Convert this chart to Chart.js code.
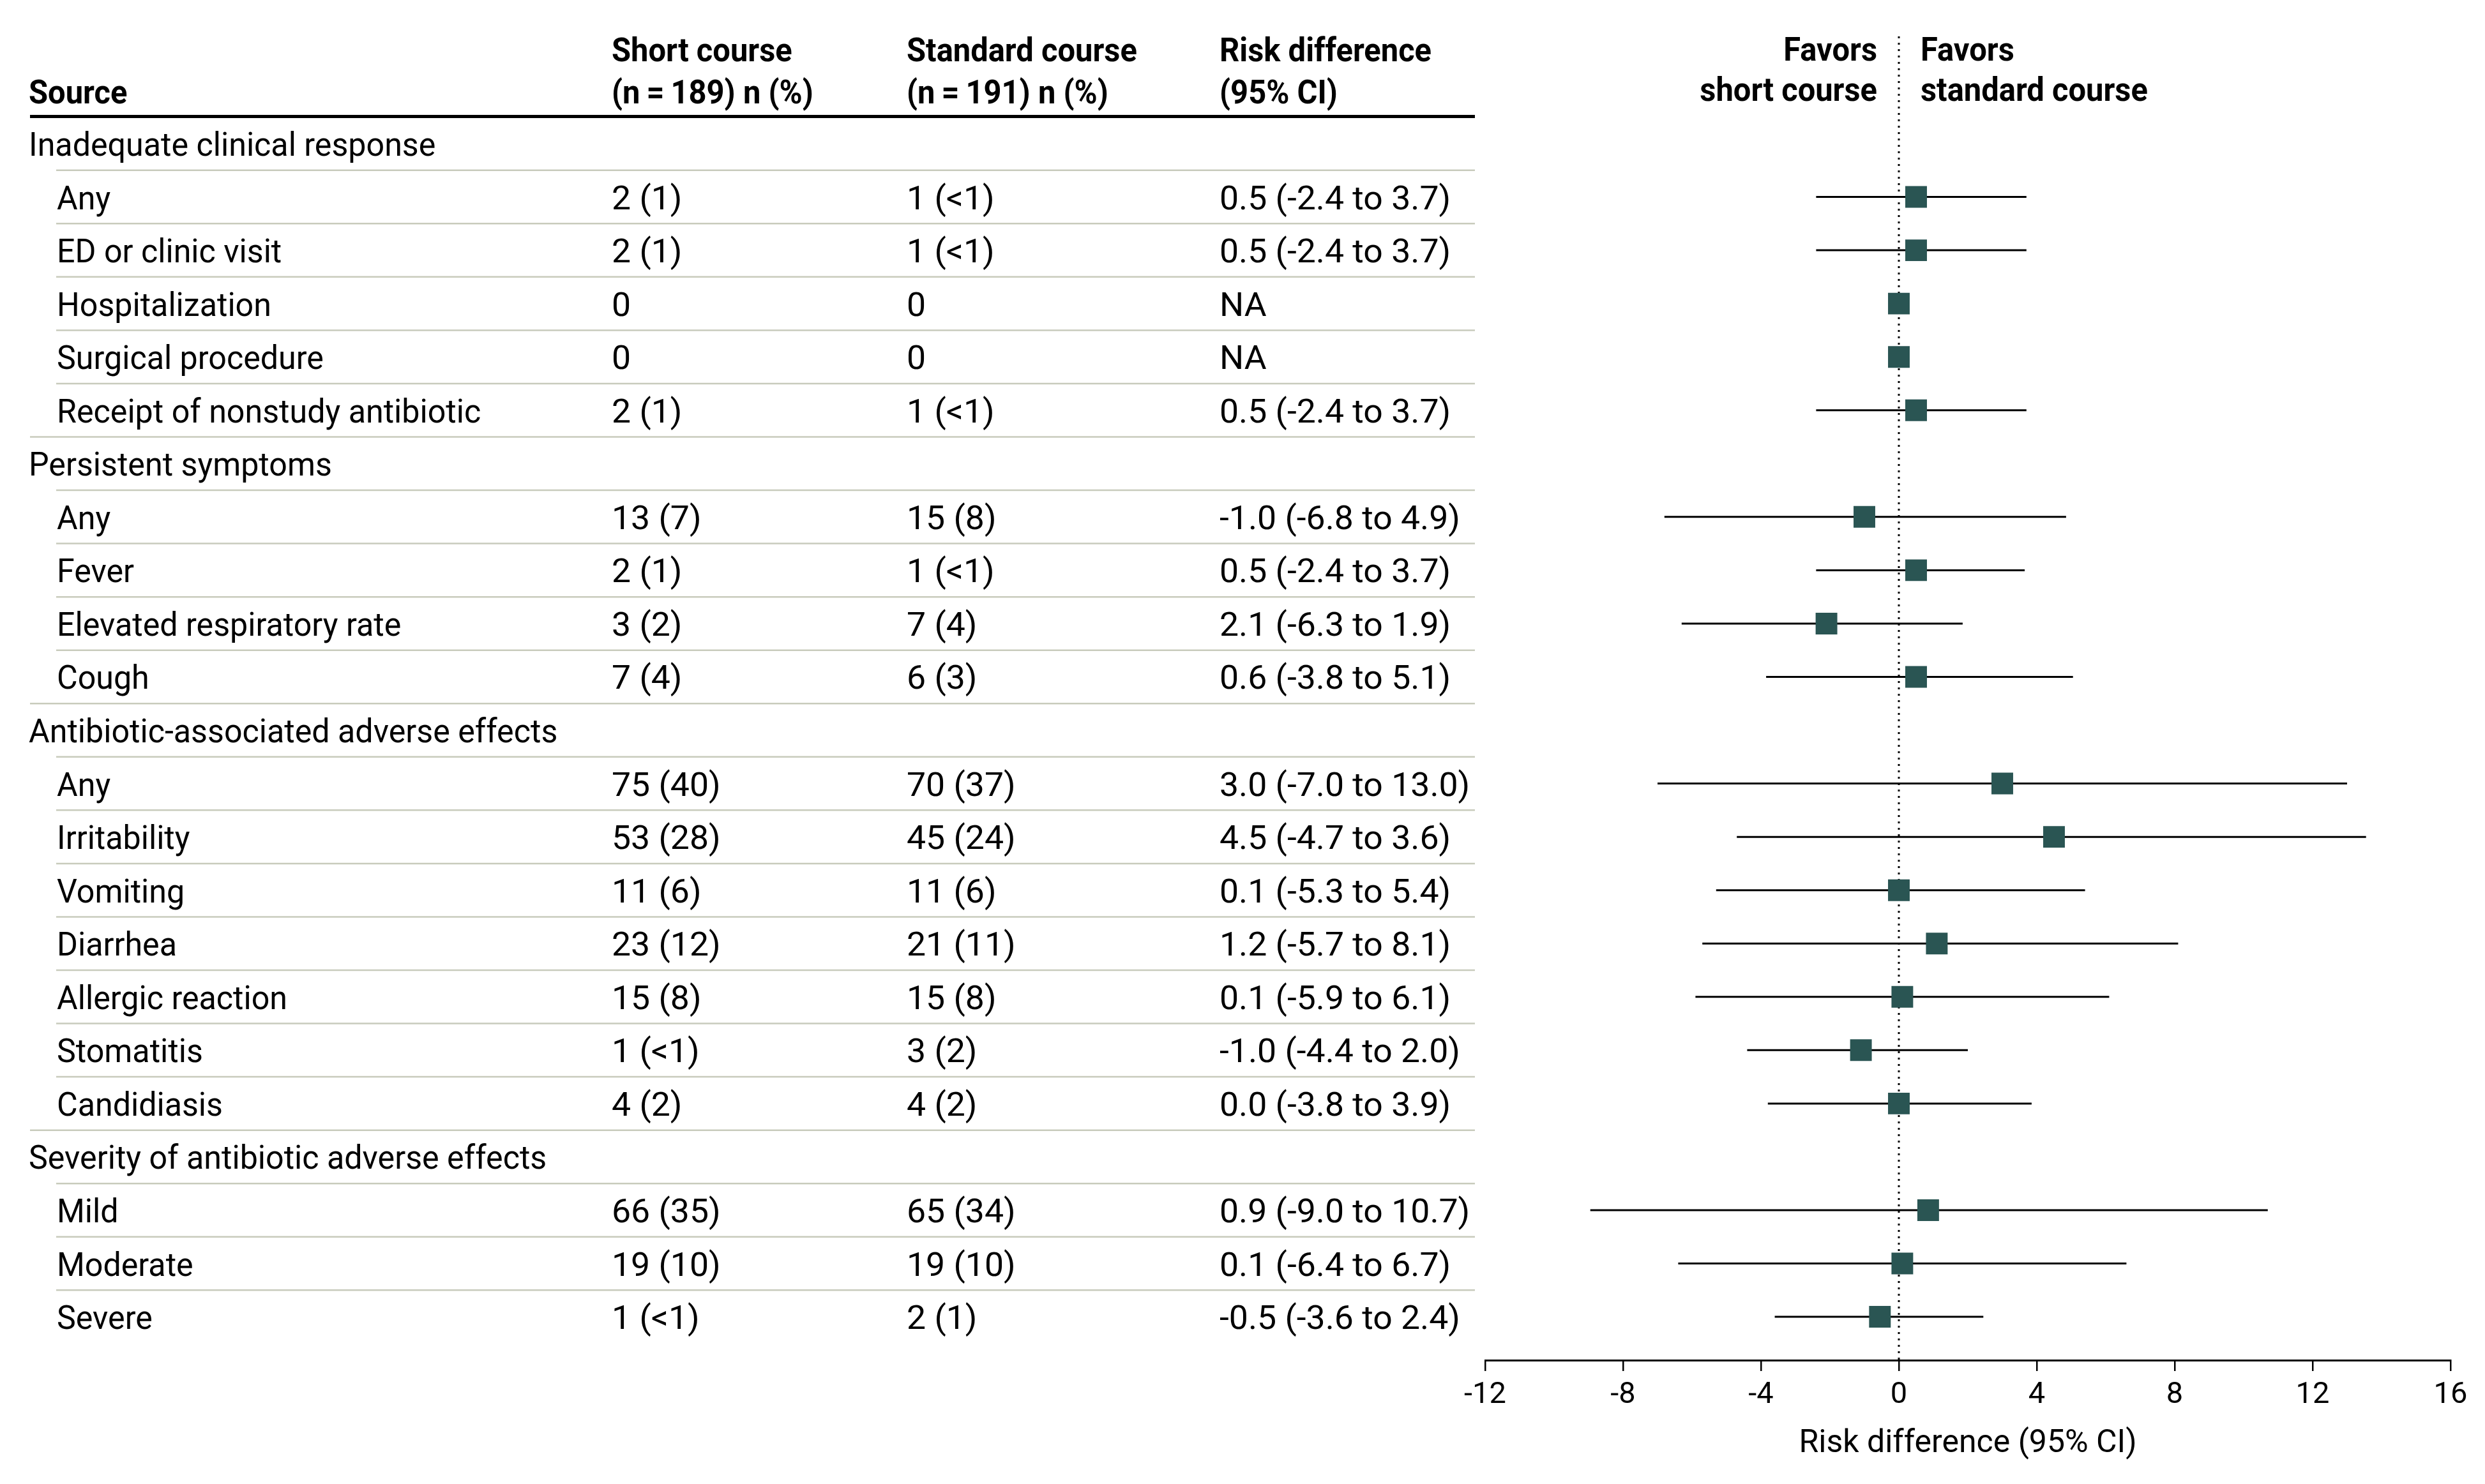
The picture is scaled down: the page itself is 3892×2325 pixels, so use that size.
<!DOCTYPE html>
<html>
<head>
<meta charset="utf-8">
<script src="https://cdn.jsdelivr.net/npm/chart.js"></script>
<style>
html,body{margin:0;padding:0;background:#fff;}
canvas{display:block;}
</style>
</head>
<body>
<canvas id="c" width="3892" height="2325"></canvas>
<script>
// ---------- DATA ----------
const rowLabels = [
  "Inadequate clinical response", "Any", "ED or clinic visit", "Hospitalization", "Surgical procedure",
  "Receipt of nonstudy antibiotic",
  "Persistent symptoms", "Any", "Fever", "Elevated respiratory rate", "Cough",
  "Antibiotic-associated adverse effects", "Any", "Irritability", "Vomiting", "Diarrhea",
  "Allergic reaction", "Stomatitis", "Candidiasis",
  "Severity of antibiotic adverse effects", "Mild", "Moderate", "Severe"
];
const isGroup = [true,false,false,false,false,false,true,false,false,false,false,true,false,false,false,false,false,false,false,true,false,false,false];
const shortCourse = ["", "2 (1)", "2 (1)", "0", "0", "2 (1)", "", "13 (7)", "2 (1)", "3 (2)", "7 (4)", "",
  "75 (40)", "53 (28)", "11 (6)", "23 (12)", "15 (8)", "1 (<1)", "4 (2)", "", "66 (35)", "19 (10)", "1 (<1)"];
const standardCourse = ["", "1 (<1)", "1 (<1)", "0", "0", "1 (<1)", "", "15 (8)", "1 (<1)", "7 (4)", "6 (3)", "",
  "70 (37)", "45 (24)", "11 (6)", "21 (11)", "15 (8)", "3 (2)", "4 (2)", "", "65 (34)", "19 (10)", "2 (1)"];
const riskText = ["", "0.5 (-2.4 to 3.7)", "0.5 (-2.4 to 3.7)", "NA", "NA", "0.5 (-2.4 to 3.7)", "",
  "-1.0 (-6.8 to 4.9)", "0.5 (-2.4 to 3.7)", "2.1 (-6.3 to 1.9)", "0.6 (-3.8 to 5.1)", "",
  "3.0 (-7.0 to 13.0)", "4.5 (-4.7 to 3.6)", "0.1 (-5.3 to 5.4)", "1.2 (-5.7 to 8.1)", "0.1 (-5.9 to 6.1)",
  "-1.0 (-4.4 to 2.0)", "0.0 (-3.8 to 3.9)", "", "0.9 (-9.0 to 10.7)", "0.1 (-6.4 to 6.7)", "-0.5 (-3.6 to 2.4)"];
// plotted values (as drawn in the figure)
const estimate = [null, 0.5, 0.5, 0, 0, 0.5, null, -1.0, 0.5, -2.1, 0.5, null,
  3.0, 4.5, 0.0, 1.1, 0.1, -1.1, 0.0, null, 0.85, 0.1, -0.55];
const ciLow = [null, -2.4, -2.4, null, null, -2.4, null, -6.8, -2.4, -6.3, -3.85, null,
  -7.0, -4.7, -5.3, -5.7, -5.9, -4.4, -3.8, null, -8.95, -6.4, -3.6];
const ciHigh = [null, 3.7, 3.7, null, null, 3.7, null, 4.85, 3.65, 1.85, 5.05, null,
  13.0, 13.55, 5.4, 8.1, 6.1, 2.0, 3.85, null, 10.7, 6.6, 2.45];
const xTicks = [-12, -8, -4, 0, 4, 8, 12, 16];
const colHeaders = [["Short course", "(n\u2009=\u2009189) n (%)"], ["Standard course", "(n\u2009=\u2009191) n (%)"], ["Risk difference", "(95% CI)"]];
const sourceHeader = "Source";
const favorsLeft = ["Favors", "short course"];
const favorsRight = ["Favors", "standard course"];
const axisTitle = "Risk difference (95% CI)";

// ---------- STYLE / LAYOUT ----------
const FONT = 'Roboto, "Liberation Sans", Arial, sans-serif';
const BODY = 52;
const SX_HEAD = 0.94, SX_LABEL = 0.965, SX_NUM = 1.03;
const MARKER = '#2a5553';
const SEP = '#c8cbbc';
const Y_MIN = -2.0108, Y_MAX = 22.813;

function txt(ctx, s, x, y, size, bold, align, sx) {
  ctx.save();
  ctx.font = (bold ? 'bold ' : '') + size + 'px ' + FONT;
  ctx.textAlign = align || 'left';
  ctx.textBaseline = 'alphabetic';
  ctx.fillStyle = '#000';
  ctx.translate(x, y);
  ctx.scale(sx || SX_HEAD, 1);
  ctx.fillText(s, 0, 0);
  ctx.restore();
}

const tablePlugin = {
  id: 'forestTable',
  afterDraw(chart) {
    const ctx = chart.ctx, ys = chart.scales.y, xs = chart.scales.x;
    const L = 47, R = 2310;
    const colX = [958, 1420, 1910];
    ctx.save();
    // header rule
    ctx.fillStyle = '#000';
    ctx.fillRect(L, 180, R - L, 5);
    // header text
    txt(ctx, sourceHeader, 45, 162, BODY, true, 'left', SX_HEAD);
    colHeaders.forEach((h, j) => {
      txt(ctx, h[0], colX[j], 96, BODY, true, 'left', SX_HEAD);
      txt(ctx, h[1], colX[j], 162, BODY, true, 'left', SX_HEAD);
    });
    // favors labels
    const x0 = xs.getPixelForValue(0);
    txt(ctx, favorsLeft[0], x0 - 34, 95, BODY, true, 'right', SX_HEAD);
    txt(ctx, favorsLeft[1], x0 - 34, 158, BODY, true, 'right', SX_HEAD);
    txt(ctx, favorsRight[0], x0 + 34, 95, BODY, true, 'left', SX_HEAD);
    txt(ctx, favorsRight[1], x0 + 34, 158, BODY, true, 'left', SX_HEAD);
    // separators
    ctx.strokeStyle = SEP;
    ctx.lineWidth = 2.5;
    for (let k = 1; k < rowLabels.length; k++) {
      const yy = ys.getPixelForValue(k - 0.5);
      const xa = isGroup[k] ? L : 88;
      ctx.beginPath();
      ctx.moveTo(xa, yy);
      ctx.lineTo(R, yy);
      ctx.stroke();
    }
    // rows
    rowLabels.forEach((lab, k) => {
      const yb = ys.getPixelForValue(k) + 19;
      txt(ctx, lab, isGroup[k] ? 45 : 89, yb, BODY, false, 'left', SX_LABEL);
      if (shortCourse[k]) txt(ctx, shortCourse[k], colX[0], yb, BODY, false, 'left', SX_NUM);
      if (standardCourse[k]) txt(ctx, standardCourse[k], colX[1], yb, BODY, false, 'left', SX_NUM);
      if (riskText[k]) txt(ctx, riskText[k], colX[2], yb, BODY, false, 'left', SX_NUM);
    });
    ctx.restore();
  }
};

// ---------- DATASETS ----------
const datasets = [];
const markerData = [];
rowLabels.forEach((_, i) => { if (estimate[i] !== null) markerData.push({x: estimate[i], y: i}); });
datasets.push({
  label: 'Risk difference',
  data: markerData,
  pointStyle: 'rect',
  pointRadius: 24,
  pointHoverRadius: 24,
  pointBorderWidth: 0,
  backgroundColor: MARKER,
  borderColor: MARKER,
  order: 0
});
rowLabels.forEach((_, i) => {
  if (ciLow[i] !== null) {
    datasets.push({
      label: '95% CI ' + i,
      data: [{x: ciLow[i], y: i}, {x: ciHigh[i], y: i}],
      showLine: true,
      borderColor: '#000',
      borderWidth: 3,
      pointRadius: 0,
      pointHoverRadius: 0,
      order: 1
    });
  }
});
datasets.push({
  label: 'No difference',
  data: [{x: 0, y: Y_MIN}, {x: 0, y: Y_MAX}],
  showLine: true,
  borderColor: '#000',
  borderWidth: 3,
  borderDash: [3, 7],
  pointRadius: 0,
  pointHoverRadius: 0,
  order: 2
});

function build() {
  new Chart(document.getElementById('c'), {
    type: 'scatter',
    data: { datasets },
    options: {
      responsive: false,
      devicePixelRatio: 1,
      animation: false,
      events: [],
      layout: { padding: { left: 2326, right: 54, top: 57, bottom: 0 } },
      plugins: { legend: { display: false }, tooltip: { enabled: false }, title: { display: false } },
      scales: {
        x: {
          type: 'linear',
          min: -12, max: 16,
          afterBuildTicks: s => { s.ticks = xTicks.map(v => ({value: v})); },
          afterFit: s => { s.height = 194; },
          ticks: {
            font: { family: FONT, size: 47 },
            color: '#000',
            padding: 10,
            maxRotation: 0,
            autoSkip: false,
            callback: v => String(v)
          },
          grid: {
            drawOnChartArea: false,
            drawTicks: true,
            tickLength: 17,
            tickWidth: 2.5,
            tickColor: '#000',
            color: '#000',
            lineWidth: 2.5
          },
          border: { display: true, color: '#000', width: 3 },
          title: {
            display: true,
            text: axisTitle,
            font: { family: FONT, size: 50 },
            color: '#000',
            padding: { top: 0, bottom: 33 }
          }
        },
        y: {
          type: 'linear',
          display: false,
          reverse: true,
          min: Y_MIN,
          max: Y_MAX
        }
      }
    },
    plugins: [tablePlugin]
  });
}
const loads = document.fonts ? Promise.all([
  document.fonts.load('52px Roboto'), document.fonts.load('bold 52px Roboto')
]).catch(() => {}) : Promise.resolve();
loads.then(build, build);
</script>
</body>
</html>
